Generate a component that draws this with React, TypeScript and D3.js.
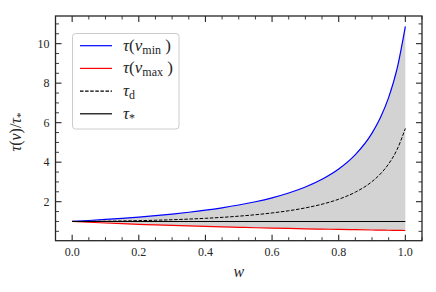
import React from "react";
import * as d3 from "d3";

// values
const wValues = [0, 0.05, 0.1, 0.15, 0.2, 0.25, 0.3, 0.35, 0.4, 0.45, 0.5, 0.55, 0.6, 0.65, 0.7, 0.75, 0.8, 0.85, 0.9, 0.925, 0.95, 0.975, 1.0];
const tauVmin = [1.0, 1.048, 1.1, 1.158, 1.222, 1.294, 1.374, 1.466, 1.57, 1.691, 1.832, 1.998, 2.197, 2.44, 2.744, 3.135, 3.655, 4.382, 5.47, 6.246, 7.278, 8.718, 10.87];
const tauVmax = [1.0, 0.959, 0.922, 0.887, 0.855, 0.825, 0.797, 0.771, 0.746, 0.723, 0.702, 0.681, 0.662, 0.644, 0.627, 0.611, 0.595, 0.581, 0.567, 0.56, 0.553, 0.547, 0.541];
const tauD = [1.0, 1.004, 1.011, 1.023, 1.039, 1.06, 1.086, 1.119, 1.158, 1.207, 1.267, 1.34, 1.43, 1.542, 1.686, 1.873, 2.125, 2.482, 3.019, 3.403, 3.916, 4.633, 5.706];
const tauStar = wValues.map(() => 1.0);

const xTicks = [0, 0.2, 0.4, 0.6, 0.8, 1.0];
const yTicks = [2, 4, 6, 8, 10];

const W = 436;
const H = 292;
const margin = { top: 16, right: 14, bottom: 51.3, left: 55.5 };
const FONT = "'Liberation Serif', 'Times New Roman', 'DejaVu Serif', serif";

const App = () => {
  const x = d3.scaleLinear().domain([-0.05, 1.05]).range([margin.left, W - margin.right]);
  const y = d3.scaleLinear().domain([0.025, 11.4]).range([H - margin.bottom, margin.top]);

  const xMinor = d3.range(-0.05, 1.0501, 0.05).map((v) => +v.toFixed(2)).filter((v) => !xTicks.includes(v));
  const yMinor = d3.range(0.5, 11.01, 0.5).filter((v) => !yTicks.includes(v));

  const pts = (vals: number[]) => wValues.map((w, i) => [w, vals[i]] as [number, number]);
  const line = d3.line<[number, number]>().x((d) => x(d[0])).y((d) => y(d[1])).curve(d3.curveMonotoneX);
  const area = d3
    .area<number>()
    .x((_, i) => x(wValues[i]))
    .y0((_, i) => y(tauVmax[i]))
    .y1((_, i) => y(tauVmin[i]))
    .curve(d3.curveMonotoneX);

  const x0 = margin.left;
  const x1 = W - margin.right;
  const y0 = H - margin.bottom;
  const y1 = margin.top;
  const axisColor = "#262626";
  const txt = (size: number) => ({ fontFamily: FONT, fontSize: size + "px" });

  const legendRows = [
    { color: "#0000ff", dash: undefined, sub: "min", paren: true },
    { color: "#ff0000", dash: undefined, sub: "max", paren: true },
    { color: "#000000", dash: "3.5,1.6", sub: "d", paren: false },
    { color: "#000000", dash: undefined, sub: "*", paren: false },
  ];

  return (
    <svg width={W} height={H} style={{ position: "fixed", left: 0, top: 0, background: "#fff" }}>
      <path d={area(tauVmin) || ""} fill="#d3d3d3" />
      <path d={line(pts(tauVmin)) || ""} fill="none" stroke="#0000ff" strokeWidth={1.2} />
      <path d={line(pts(tauVmax)) || ""} fill="none" stroke="#ff0000" strokeWidth={1.2} />
      <path d={line(pts(tauD)) || ""} fill="none" stroke="#000" strokeWidth={1} strokeDasharray="3.5,1.6" />
      <path d={line(pts(tauStar)) || ""} fill="none" stroke="#000" strokeWidth={1.1} />

      {/* ticks, inward on all four sides */}
      <g stroke={axisColor}>
        {xTicks.map((t) => (
          <g key={"xt" + t}>
            <line x1={x(t)} x2={x(t)} y1={y0} y2={y0 - 6} strokeWidth={1.1} />
            <line x1={x(t)} x2={x(t)} y1={y1} y2={y1 + 6} strokeWidth={1.1} />
          </g>
        ))}
        {xMinor.map((t) => (
          <g key={"xm" + t}>
            <line x1={x(t)} x2={x(t)} y1={y0} y2={y0 - 3.5} strokeWidth={0.9} />
            <line x1={x(t)} x2={x(t)} y1={y1} y2={y1 + 3.5} strokeWidth={0.9} />
          </g>
        ))}
        {yTicks.map((t) => (
          <g key={"yt" + t}>
            <line x1={x0} x2={x0 + 6} y1={y(t)} y2={y(t)} strokeWidth={1.1} />
            <line x1={x1} x2={x1 - 6} y1={y(t)} y2={y(t)} strokeWidth={1.1} />
          </g>
        ))}
        {yMinor.map((t) => (
          <g key={"ym" + t}>
            <line x1={x0} x2={x0 + 3.5} y1={y(t)} y2={y(t)} strokeWidth={0.9} />
            <line x1={x1} x2={x1 - 3.5} y1={y(t)} y2={y(t)} strokeWidth={0.9} />
          </g>
        ))}
      </g>
      <rect x={x0} y={y1} width={x1 - x0} height={y0 - y1} fill="none" stroke={axisColor} strokeWidth={1.3} />

      {/* tick labels */}
      {xTicks.map((t) => (
        <text key={"xl" + t} x={x(t)} y={y0 + 15.5} textAnchor="middle" fill="#262626" style={txt(12)}>
          {d3.format(".1f")(t)}
        </text>
      ))}
      {yTicks.map((t) => (
        <text key={"yl" + t} x={x0 - 6} y={y(t) + 4} textAnchor="end" fill="#262626" style={txt(12)}>
          {t}
        </text>
      ))}

      {/* axis labels */}
      <text x={(x0 + x1) / 2} y={277} textAnchor="middle" fontStyle="italic" fill="#262626" style={txt(16)}>
        w
      </text>
      <text transform={`translate(21,132) rotate(-90)`} textAnchor="middle" fill="#262626" style={txt(16)}>
        <tspan fontStyle="italic">τ</tspan>(<tspan fontStyle="italic">v</tspan>)/<tspan fontStyle="italic">τ</tspan>
        <tspan dy={3} style={{ fontSize: "11px" }}>*</tspan>
      </text>

      {/* legend */}
      <rect x={72.5} y={33.5} width={106.5} height={95.5} rx={3} fill="#fff" fillOpacity={0.8} stroke="#cccccc" strokeWidth={1} />
      {legendRows.map((r, i) => {
        const ry = 45.7 + i * 22.7;
        return (
          <g key={"lg" + i}>
            <line x1={80} x2={112} y1={ry} y2={ry} stroke={r.color} strokeWidth={1.2} strokeDasharray={r.dash} />
            <text x={123} y={ry + 5} fill="#262626" style={txt(17)}>
              <tspan fontStyle="italic">τ</tspan>
              {r.paren ? (
                <>
                  <tspan>(</tspan>
                  <tspan fontStyle="italic">v</tspan>
                  <tspan dy={3} style={{ fontSize: "12px" }}>{r.sub}</tspan>
                  <tspan dy={-3}> )</tspan>
                </>
              ) : (
                <tspan dy={3} style={{ fontSize: "12px" }}>{r.sub}</tspan>
              )}
            </text>
          </g>
        );
      })}
    </svg>
  );
};

export default App;
